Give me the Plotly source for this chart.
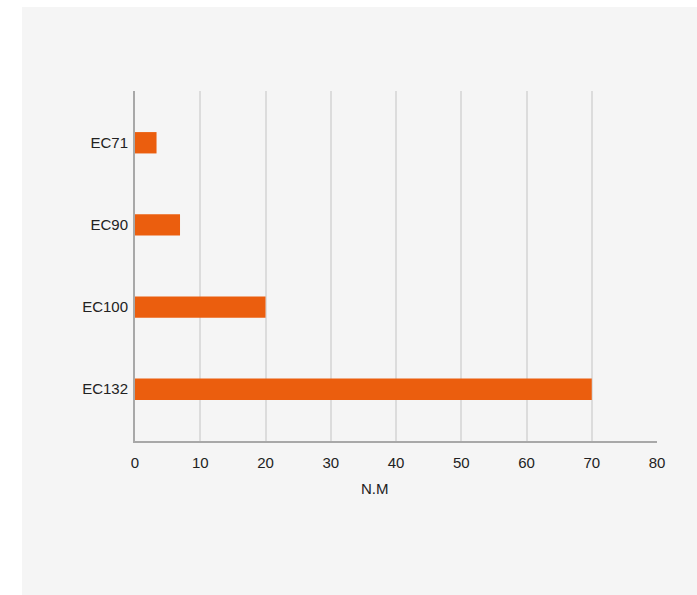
import plotly.graph_objects as go

categories = ["EC71", "EC90", "EC100", "EC132"]
values = [3.3, 6.9, 20, 70]
x_ticks = [0, 10, 20, 30, 40, 50, 60, 70, 80]

fig = go.Figure(go.Bar(
    x=values, y=categories, orientation="h",
    marker=dict(color="#eb5e0e", line=dict(width=0)),
    width=0.26,
))

L, R, T, B = 135, 40, 91, 154
pw = 697 - L - R
ph = 595 - T - B

fig.add_shape(type="rect", xref="paper", yref="paper", layer="below",
              x0=(22 - L) / pw, x1=(697 - L) / pw + 0.01,
              y0=-(B + 5) / ph, y1=(595 - B - 7) / ph,
              fillcolor="#f5f5f5", line=dict(width=0))

fig.add_annotation(text="N.M", xref="paper", yref="paper",
                   x=(375 - L) / pw, y=-(488 - 441) / ph,
                   xanchor="center", yanchor="middle", showarrow=False,
                   font=dict(size=15, color="#222222"))

fig.update_layout(
    width=697, height=595,
    margin=dict(l=L, r=R, t=T, b=B),
    paper_bgcolor="white", plot_bgcolor="#f5f5f5",
    showlegend=False,
    font=dict(family="Liberation Sans, Arial, sans-serif", size=15, color="#222222"),
    xaxis=dict(range=[0, 80], tickvals=x_ticks, showgrid=True, gridcolor="#dcdcdc", gridwidth=2,
               zeroline=False, showline=True, linecolor="#a8a8a8", linewidth=2,
               ticks="outside", ticklen=7, tickcolor="rgba(0,0,0,0)"),
    yaxis=dict(type="category", categoryarray=categories, range=[3.63, -0.63],
               showgrid=False, zeroline=False, showline=True, linecolor="#a8a8a8", linewidth=2,
               ticks="outside", ticklen=2, tickcolor="rgba(0,0,0,0)"),
)

fig.write_html("out.html")
